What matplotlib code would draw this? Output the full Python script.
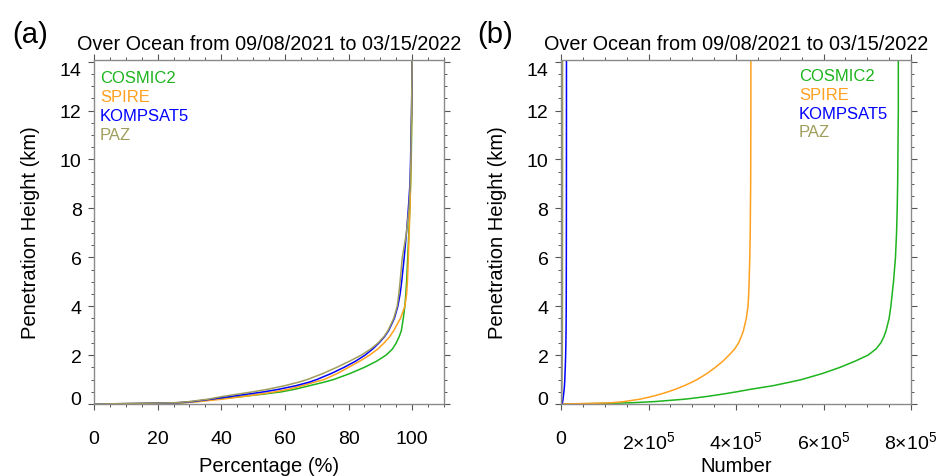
import numpy as np
import matplotlib
matplotlib.use('Agg')
import matplotlib.pyplot as plt
from matplotlib.ticker import MultipleLocator

plt.rcParams['font.family'] = ['Liberation Sans', 'DejaVu Sans']
plt.rcParams['mathtext.fontset'] = 'custom'
plt.rcParams['mathtext.rm'] = 'Liberation Sans'
plt.rcParams['mathtext.default'] = 'regular'

# Data
names = ['COSMIC2', 'SPIRE', 'KOMPSAT5', 'PAZ']
colors = ['#1db41d', '#ffa01e', '#0000ff', '#a09e5c']

heights = [0, 0.02, 0.05, 0.1, 0.2, 0.3, 0.4, 0.5, 0.6, 0.75, 0.9, 1.0,
           1.25, 1.5, 1.75, 2.0, 2.25, 2.5, 2.75, 3.0, 3.5, 4.0, 4.5, 5.0,
           6.0, 7.0, 8.0, 9.0, 10.0, 12.0, 14.1]

# (a) percentage (%)
pct_cosmic2 = [0, 15, 28, 32, 38.5, 46, 53, 59, 63, 67.8, 72.5, 75.3,
               80.5, 85, 88.8, 91.8, 93.8, 95.0, 95.9, 96.6, 97.2, 97.7, 98.0, 98.25,
               98.6, 98.95, 99.25, 99.5, 99.7, 99.9, 100]
pct_spire = [0, 15, 28, 33, 40.5, 46.5, 52, 57, 61, 65.5, 69.5, 72.3,
             76.5, 80, 83.5, 86.6, 89.2, 91.2, 92.9, 94.2, 96.3, 97.7, 98.25, 98.5,
             98.8, 99.05, 99.3, 99.5, 99.65, 99.85, 100]
pct_kompsat5 = [0, 14, 26, 31, 37, 42.5, 48, 53.5, 58, 63.5, 67.8, 70,
                74.6, 78.6, 82.2, 85.2, 87.6, 89.6, 91.3, 92.6, 94.4, 95.5, 96.2, 96.7,
                97.5, 98.2, 98.8, 99.3, 99.5, 99.8, 100]
pct_paz = [0, 13, 25, 30, 36, 40, 45, 50, 54.5, 60, 64.5, 67,
           72, 76.3, 80.3, 84, 87, 89.3, 91.1, 92.4, 94.2, 95.3, 95.8, 96.2,
           96.9, 98.2, 99.0, 99.4, 99.6, 99.8, 100]

# (b) number of profiles
num_cosmic2 = [0, 0.9e5, 1.6e5, 2.15e5, 2.85e5, 3.3e5, 3.68e5, 4.02e5, 4.33e5, 4.85e5, 5.25e5, 5.5e5,
               5.98e5, 6.38e5, 6.72e5, 7.02e5, 7.2e5, 7.31e5, 7.38e5, 7.43e5, 7.5e5, 7.54e5, 7.57e5, 7.6e5,
               7.645e5, 7.67e5, 7.685e5, 7.695e5, 7.7e5, 7.71e5, 7.71e5]
num_spire = [0, 0.6e5, 1.15e5, 1.45e5, 1.81e5, 2.06e5, 2.27e5, 2.45e5, 2.61e5, 2.82e5, 3.0e5, 3.11e5,
             3.34e5, 3.53e5, 3.7e5, 3.84e5, 3.97e5, 4.06e5, 4.12e5, 4.17e5, 4.235e5, 4.275e5, 4.29e5, 4.3e5,
             4.315e5, 4.325e5, 4.33e5, 4.335e5, 4.337e5, 4.34e5, 4.34e5]
num_kompsat5 = [0, 1800, 3200, 3900, 4600, 5300, 6000, 6600, 7200, 7900, 8400, 8700,
                9200, 9800, 10200, 10600, 10900, 11200, 11400, 11550, 11800, 11950, 12050, 12100,
                12200, 12280, 12350, 12400, 12440, 12480, 12500]
num_paz = [0, 460, 880, 1050, 1260, 1400, 1580, 1750, 1930, 2130, 2310, 2380,
           2500, 2660, 2810, 2940, 3050, 3130, 3190, 3230, 3300, 3340, 3360, 3370,
           3390, 3440, 3470, 3480, 3490, 3500, 3500]

xticks_b = [0, 2e5, 4e5, 6e5, 8e5]
xticklabels_b = ['0', r'$2{\times}10^{5}$', r'$4{\times}10^{5}$',
                 r'$6{\times}10^{5}$', r'$8{\times}10^{5}$']

title = 'Over Ocean from 09/08/2021 to 03/15/2022'

fig = plt.figure(figsize=(9.39, 4.77), dpi=100)
ax1 = fig.add_axes([94 / 939, 1 - 405 / 477, 350 / 939, 344.3 / 477])
ax2 = fig.add_axes([561 / 939, 1 - 405 / 477, 350 / 939, 344.3 / 477])


def style(ax):
    for sp in ax.spines.values():
        sp.set_color('#8a8a8a')
        sp.set_linewidth(1.0)
    ax.tick_params(which='both', direction='out', top=True, right=True,
                   color='#555555', labelsize=14)
    ax.tick_params(which='major', length=4, width=0.8)
    ax.tick_params(which='minor', length=2.5, width=0.7)
    ax.tick_params(axis='x', pad=15)
    ax.tick_params(axis='y', pad=5)
    ax.set_ylim(0, 14.08)
    ax.set_yticks([0, 2, 4, 6, 8, 10, 12, 14])
    ax.yaxis.set_minor_locator(MultipleLocator(0.5))
    ax.set_ylabel('Penetration Height (km)', fontsize=14.5, labelpad=14)
    ax.set_title(title, fontsize=14.3, pad=7.5)
    ax.xaxis.set_label_coords(0.5, -0.152)
    ylabs = ax.get_yticklabels()
    ylabs[0].set_va('baseline')
    ylabs[-1].set_va('top')


pct_series = [pct_cosmic2, pct_spire, pct_kompsat5, pct_paz]
for vals, c in zip(pct_series, colors):
    ax1.plot(vals, heights, color=c, lw=1.1)
ax1.set_xlim(0, 110)
ax1.set_xticks([0, 20, 40, 60, 80, 100])
ax1.xaxis.set_minor_locator(MultipleLocator(5))
ax1.set_xlabel('Percentage (%)', fontsize=14.5)
style(ax1)

num_series = [num_cosmic2, num_spire, num_kompsat5, num_paz]
for vals, c in zip(num_series, colors):
    ax2.plot(vals, heights, color=c, lw=1.1)
ax2.set_xlim(0, 8e5)
ax2.set_xticks(xticks_b)
ax2.set_xticklabels(xticklabels_b)
ax2.xaxis.set_minor_locator(MultipleLocator(0.5e5))
ax2.set_xlabel('Number', fontsize=14.5)
style(ax2)

# colored text legends
for i, (n, c) in enumerate(zip(names, colors)):
    ax1.text(0.017, 0.947 - i * 0.0543, n, color=c, fontsize=12,
             transform=ax1.transAxes, va='center', ha='left')
    ax2.text(0.68, 0.953 - i * 0.0543, n, color=c, fontsize=12,
             transform=ax2.transAxes, va='center', ha='left')

fig.text(12 / 939, 1 - 35 / 477, '(a)', fontsize=21, va='center', ha='left')
fig.text(477 / 939, 1 - 35 / 477, '(b)', fontsize=21, va='center', ha='left')

fig.savefig('out.png', dpi=100)
